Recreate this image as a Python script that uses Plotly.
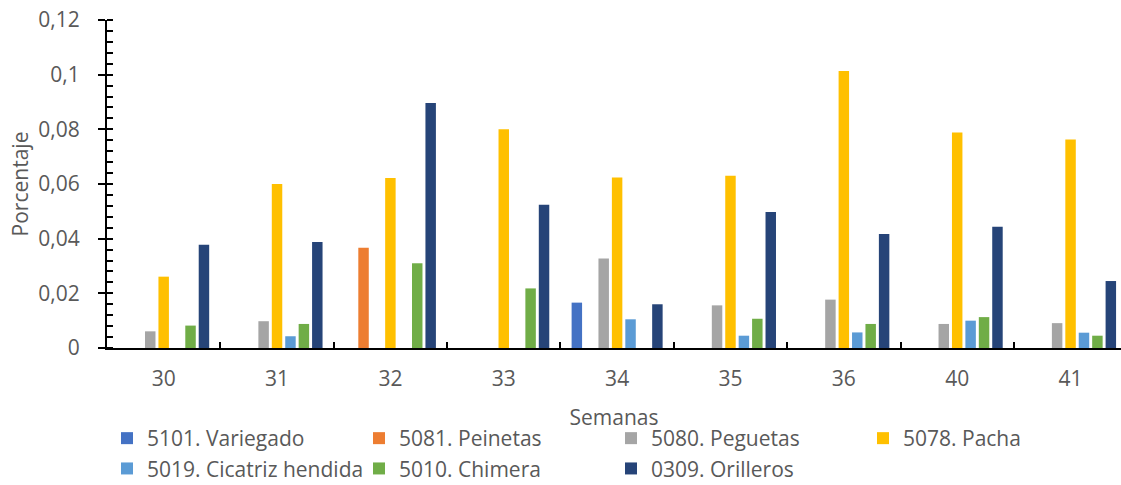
import plotly.graph_objects as go

semanas = ["30", "31", "32", "33", "34", "35", "36", "40", "41"]

variegado = [None, None, None, None, 0.0166, None, None, None, None]
peinetas = [None, None, 0.0367, None, None, None, None, None, None]
peguetas = [0.0061, 0.0098, None, None, 0.0327, 0.0156, 0.0177, 0.0088, 0.0091]
pacha = [0.0261, 0.0600, 0.0622, 0.0800, 0.0624, 0.0630, 0.1013, 0.0788, 0.0763]
cicatriz = [None, 0.0043, None, None, 0.0105, 0.0045, 0.0057, 0.0100, 0.0056]
chimera = [0.0082, 0.0088, 0.0310, 0.0218, None, 0.0107, 0.0088, 0.0113, 0.0045]
orilleros = [0.0378, 0.0388, 0.0896, 0.0524, 0.0160, 0.0498, 0.0417, 0.0444, 0.0245]

series = [
    ("5101. Variegado", variegado, "#4472C4"),
    ("5081. Peinetas", peinetas, "#ED7D31"),
    ("5080. Peguetas", peguetas, "#A5A5A5"),
    ("5078. Pacha", pacha, "#FFC000"),
    ("5019. Cicatriz hendida", cicatriz, "#5B9BD5"),
    ("5010. Chimera", chimera, "#70AD47"),
    ("0309. Orilleros", orilleros, "#264478"),
]

FONT = "Open Sans"
GREY = "#595959"

fig = go.Figure()
for name, vals, col in series:
    fig.add_trace(go.Bar(x=semanas, y=vals, name=name, marker_color=col,
                         marker_line_width=0))

# helper trace for the overlay axis (inside part of the major ticks)
fig.add_trace(go.Scatter(x=[semanas[0]], y=[None], yaxis="y2", showlegend=False,
                         hoverinfo="skip"))

W, H = 1121, 485
L, T, B, R = 107, 20, 137, 0
pw = W - L - R
ph = H - T - B

fig.update_layout(
    width=W, height=H,
    margin=dict(l=L, r=R, t=T, b=B, pad=0, autoexpand=False),
    paper_bgcolor="white", plot_bgcolor="white",
    separators=",.",
    barmode="group", bargap=0.171, bargroupgap=0.22,
    font=dict(family=FONT, size=21, color=GREY),
    xaxis=dict(
        type="category", range=[-0.5, 8.445], automargin=False,
        showline=True, linecolor="black", linewidth=2,
        ticks="inside", tickson="boundaries", ticklen=6, tickwidth=1.5, tickcolor="black",
        showgrid=False, zeroline=False,
        tickfont=dict(family=FONT, size=21, color=GREY),
        ticklabelstandoff=11,
        title=dict(text="Semanas", font=dict(family=FONT, size=21, color=GREY), standoff=19),
    ),
    yaxis=dict(
        range=[0, 0.12], dtick=0.02, tick0=0, automargin=False,
        showline=True, linecolor="black", linewidth=2,
        ticks="outside", ticklen=7, tickwidth=1.5, tickcolor="black",
        minor=dict(ticks="inside", ticklen=6, dtick=0.004, tick0=0, tickwidth=1.5, tickcolor="black"),
        showgrid=False, zeroline=False,
        tickfont=dict(family=FONT, size=21, color=GREY),
        ticklabelstandoff=14,
        title=dict(text="Porcentaje", font=dict(family=FONT, size=21, color=GREY), standoff=4),
    ),
    yaxis2=dict(
        overlaying="y", range=[0, 0.12], dtick=0.02, tick0=0,
        ticks="inside", ticklen=6, tickwidth=1.5, tickcolor="black",
        showticklabels=False, showgrid=False, zeroline=False, showline=False,
        side="left", automargin=False,
    ),
    legend=dict(
        orientation="h",
        x=0, xanchor="left",
        y=-(418 - (T + ph)) / ph, yanchor="top",
        entrywidth=207, entrywidthmode="pixels",
        font=dict(family=FONT, size=21, color=GREY),
        traceorder="normal",
        bgcolor="rgba(0,0,0,0)",
        tracegroupgap=0,
        itemwidth=30,
    ),
)

fig.write_html("out.html")
